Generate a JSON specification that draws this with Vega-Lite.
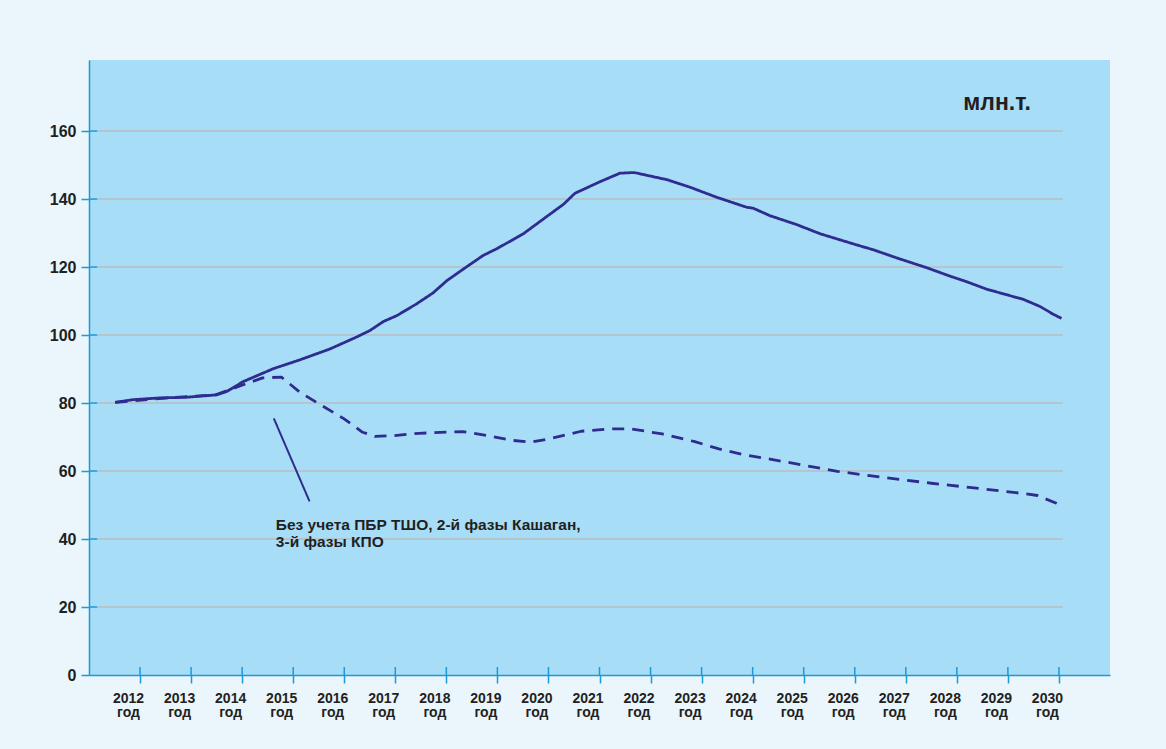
{
  "$schema": "https://vega.github.io/schema/vega-lite/v6.json",
  "autosize": "none",
  "width": 1021,
  "height": 615,
  "padding": {"left": 89, "top": 60, "right": 56, "bottom": 74},
  "background": "#eaf5fc",
  "config": {
    "view": {"stroke": null, "fill": "#a8ddf8"},
    "font": "Liberation Sans"
  },
  "datasets": {
    "grid": [{"v": 20}, {"v": 40}, {"v": 60}, {"v": 80}, {"v": 100}, {"v": 120}, {"v": 140}, {"v": 160}],
    "years": [{"year": 2012}, {"year": 2013}, {"year": 2014}, {"year": 2015}, {"year": 2016}, {"year": 2017}, {"year": 2018}, {"year": 2019}, {"year": 2020}, {"year": 2021}, {"year": 2022}, {"year": 2023}, {"year": 2024}, {"year": 2025}, {"year": 2026}, {"year": 2027}, {"year": 2028}, {"year": 2029}, {"year": 2030}]
  },
  "layer": [
    {
      "data": {"name": "grid"},
      "mark": {"type": "rule", "color": "#b9bcbf", "strokeWidth": 1.5},
      "encoding": {
        "y": {"field": "v", "type": "quantitative", "scale": {"domain": [0, 180.9], "nice": false, "zero": false}, "axis": {"title": null}},
        "x": {"datum": 2011.16, "type": "quantitative", "scale": {"domain": [2011, 2031], "nice": false, "zero": false}, "axis": {"title": null}},
        "x2": {"datum": 2030.08}
      }
    },
    {
      "data": {"name": "grid"},
      "mark": {"type": "rule", "color": "#1b9ad8", "strokeWidth": 1.5},
      "encoding": {
        "y": {"field": "v", "type": "quantitative", "scale": {"domain": [0, 180.9], "nice": false, "zero": false}, "axis": {"title": null}},
        "x": {"datum": 2011, "type": "quantitative", "scale": {"domain": [2011, 2031], "nice": false, "zero": false}, "axis": {"title": null}},
        "x2": {"datum": 2011.16}
      }
    },
    {
      "data": {"name": "years"},
      "mark": {"type": "rule", "color": "#1b9ad8", "strokeWidth": 1.5},
      "encoding": {
        "x": {"field": "year", "type": "quantitative", "scale": {"domain": [2011, 2031], "nice": false, "zero": false}, "axis": {"title": null}},
        "y": {"datum": 0, "type": "quantitative", "scale": {"domain": [0, 180.9], "nice": false, "zero": false}, "axis": {"title": null}},
        "y2": {"datum": 2.35}
      }
    },
    {
      "data": {"values": [
        {"series": "main", "year": 2011.51, "value": 80.2},
        {"series": "main", "year": 2011.87, "value": 81.0},
        {"series": "main", "year": 2012.39, "value": 81.5},
        {"series": "main", "year": 2012.91, "value": 81.7},
        {"series": "main", "year": 2013.50, "value": 82.4},
        {"series": "main", "year": 2013.70, "value": 83.4},
        {"series": "main", "year": 2014.02, "value": 86.3},
        {"series": "main", "year": 2014.61, "value": 90.1},
        {"series": "main", "year": 2015.13, "value": 92.7},
        {"series": "main", "year": 2015.72, "value": 95.9},
        {"series": "main", "year": 2016.24, "value": 99.4},
        {"series": "main", "year": 2016.50, "value": 101.3},
        {"series": "main", "year": 2016.77, "value": 104.0},
        {"series": "main", "year": 2017.03, "value": 105.7},
        {"series": "main", "year": 2017.42, "value": 109.2},
        {"series": "main", "year": 2017.74, "value": 112.4},
        {"series": "main", "year": 2018.01, "value": 116.0},
        {"series": "main", "year": 2018.40, "value": 120.1},
        {"series": "main", "year": 2018.72, "value": 123.4},
        {"series": "main", "year": 2018.99, "value": 125.4},
        {"series": "main", "year": 2019.51, "value": 129.8},
        {"series": "main", "year": 2019.97, "value": 134.9},
        {"series": "main", "year": 2020.29, "value": 138.4},
        {"series": "main", "year": 2020.52, "value": 141.7},
        {"series": "main", "year": 2021.01, "value": 145.1},
        {"series": "main", "year": 2021.40, "value": 147.6},
        {"series": "main", "year": 2021.68, "value": 147.8},
        {"series": "main", "year": 2022.32, "value": 145.7},
        {"series": "main", "year": 2022.77, "value": 143.5},
        {"series": "main", "year": 2023.30, "value": 140.5},
        {"series": "main", "year": 2023.88, "value": 137.6},
        {"series": "main", "year": 2024.01, "value": 137.3},
        {"series": "main", "year": 2024.34, "value": 135.1},
        {"series": "main", "year": 2024.86, "value": 132.5},
        {"series": "main", "year": 2025.32, "value": 129.8},
        {"series": "main", "year": 2026.04, "value": 126.5},
        {"series": "main", "year": 2026.36, "value": 125.1},
        {"series": "main", "year": 2026.82, "value": 122.7},
        {"series": "main", "year": 2027.41, "value": 119.8},
        {"series": "main", "year": 2027.87, "value": 117.3},
        {"series": "main", "year": 2028.19, "value": 115.7},
        {"series": "main", "year": 2028.58, "value": 113.5},
        {"series": "main", "year": 2029.30, "value": 110.5},
        {"series": "main", "year": 2029.63, "value": 108.4},
        {"series": "main", "year": 2029.89, "value": 106.1},
        {"series": "main", "year": 2030.05, "value": 104.9},
        {"series": "base", "year": 2011.52, "value": 80.2},
        {"series": "base", "year": 2012.44, "value": 81.4},
        {"series": "base", "year": 2013.48, "value": 82.4},
        {"series": "base", "year": 2013.97, "value": 85.1},
        {"series": "base", "year": 2014.40, "value": 87.4},
        {"series": "base", "year": 2014.77, "value": 87.6},
        {"series": "base", "year": 2015.13, "value": 83.2},
        {"series": "base", "year": 2015.50, "value": 79.8},
        {"series": "base", "year": 2015.99, "value": 75.4},
        {"series": "base", "year": 2016.36, "value": 71.4},
        {"series": "base", "year": 2016.60, "value": 70.2},
        {"series": "base", "year": 2016.97, "value": 70.4},
        {"series": "base", "year": 2017.46, "value": 71.1},
        {"series": "base", "year": 2018.32, "value": 71.6},
        {"series": "base", "year": 2018.81, "value": 70.4},
        {"series": "base", "year": 2019.30, "value": 69.0},
        {"series": "base", "year": 2019.66, "value": 68.5},
        {"series": "base", "year": 2020.03, "value": 69.5},
        {"series": "base", "year": 2020.64, "value": 71.7},
        {"series": "base", "year": 2021.25, "value": 72.4},
        {"series": "base", "year": 2021.62, "value": 72.4},
        {"series": "base", "year": 2022.23, "value": 70.9},
        {"series": "base", "year": 2022.85, "value": 68.7},
        {"series": "base", "year": 2023.34, "value": 66.5},
        {"series": "base", "year": 2023.83, "value": 64.8},
        {"series": "base", "year": 2024.68, "value": 62.6},
        {"series": "base", "year": 2025.66, "value": 59.9},
        {"series": "base", "year": 2026.52, "value": 58.2},
        {"series": "base", "year": 2027.50, "value": 56.4},
        {"series": "base", "year": 2028.48, "value": 54.8},
        {"series": "base", "year": 2029.34, "value": 53.3},
        {"series": "base", "year": 2029.58, "value": 52.8},
        {"series": "base", "year": 2029.95, "value": 50.5},
        {"series": "base", "year": 2030.02, "value": 49.9}
      ]},
      "mark": {"type": "line", "color": "#2e2c8f", "strokeWidth": 2.8, "strokeJoin": "round"},
      "encoding": {
        "x": {
          "field": "year", "type": "quantitative",
          "scale": {"domain": [2011, 2031], "nice": false, "zero": false},
          "axis": {
            "title": null, "grid": false,
            "values": [2012, 2013, 2014, 2015, 2016, 2017, 2018, 2019, 2020, 2021, 2022, 2023, 2024, 2025, 2026, 2027, 2028, 2029, 2030],
            "format": "d",
            "labelExpr": "[datum.label, 'год']",
            "labelFont": "Liberation Sans", "labelFontWeight": "bold", "labelFontSize": 14,
            "labelColor": "#231f20", "labelOffset": -12, "labelPadding": 8, "labelLineHeight": 14,
            "labelFlush": false, "labelOverlap": false,
            "tickSize": 8, "tickColor": "#1b9ad8", "tickWidth": 1.5,
            "domainColor": "#1b9ad8", "domainWidth": 1.5
          }
        },
        "y": {
          "field": "value", "type": "quantitative",
          "scale": {"domain": [0, 180.9], "nice": false, "zero": false},
          "axis": {
            "title": null, "grid": false,
            "values": [0, 20, 40, 60, 80, 100, 120, 140, 160],
            "labelFont": "Liberation Sans", "labelFontWeight": "bold", "labelFontSize": 16,
            "labelColor": "#231f20", "labelPadding": 5, "labelFlush": false,
            "tickSize": 8, "tickColor": "#1b9ad8", "tickWidth": 1.5,
            "domainColor": "#1b9ad8", "domainWidth": 1.5
          }
        },
        "detail": {"field": "series", "type": "nominal"},
        "strokeDash": {
          "field": "series", "type": "nominal",
          "scale": {"domain": ["main", "base"], "range": [[1, 0], [12, 8]]},
          "legend": null
        }
      }
    },
    {
      "data": {"values": [{}]},
      "mark": {"type": "rule", "color": "#2e2c8f", "strokeWidth": 2},
      "encoding": {
        "x": {"datum": 2014.62, "type": "quantitative", "scale": {"domain": [2011, 2031], "nice": false, "zero": false}, "axis": {"title": null}},
        "y": {"datum": 75.5, "type": "quantitative", "scale": {"domain": [0, 180.9], "nice": false, "zero": false}, "axis": {"title": null}},
        "x2": {"datum": 2015.32},
        "y2": {"datum": 51.1}
      }
    },
    {
      "data": {"values": [{"label": ["Без учета ПБР ТШО, 2-й фазы Кашаган,", "3-й фазы КПО"]}]},
      "mark": {"type": "text", "align": "left", "baseline": "alphabetic", "font": "Liberation Sans", "fontWeight": "bold", "fontSize": 15.5, "lineHeight": 17, "color": "#231f20"},
      "encoding": {
        "x": {"datum": 2014.66, "type": "quantitative", "scale": {"domain": [2011, 2031], "nice": false, "zero": false}, "axis": {"title": null}},
        "y": {"datum": 42.6, "type": "quantitative", "scale": {"domain": [0, 180.9], "nice": false, "zero": false}, "axis": {"title": null}},
        "text": {"field": "label"}
      }
    },
    {
      "data": {"values": [{"label": "млн.т."}]},
      "mark": {"type": "text", "align": "right", "baseline": "alphabetic", "font": "Liberation Sans", "fontWeight": "bold", "fontSize": 23, "color": "#231f20"},
      "encoding": {
        "x": {"datum": 2029.45, "type": "quantitative", "scale": {"domain": [2011, 2031], "nice": false, "zero": false}, "axis": {"title": null}},
        "y": {"datum": 166.2, "type": "quantitative", "scale": {"domain": [0, 180.9], "nice": false, "zero": false}, "axis": {"title": null}},
        "text": {"field": "label"}
      }
    }
  ]
}
